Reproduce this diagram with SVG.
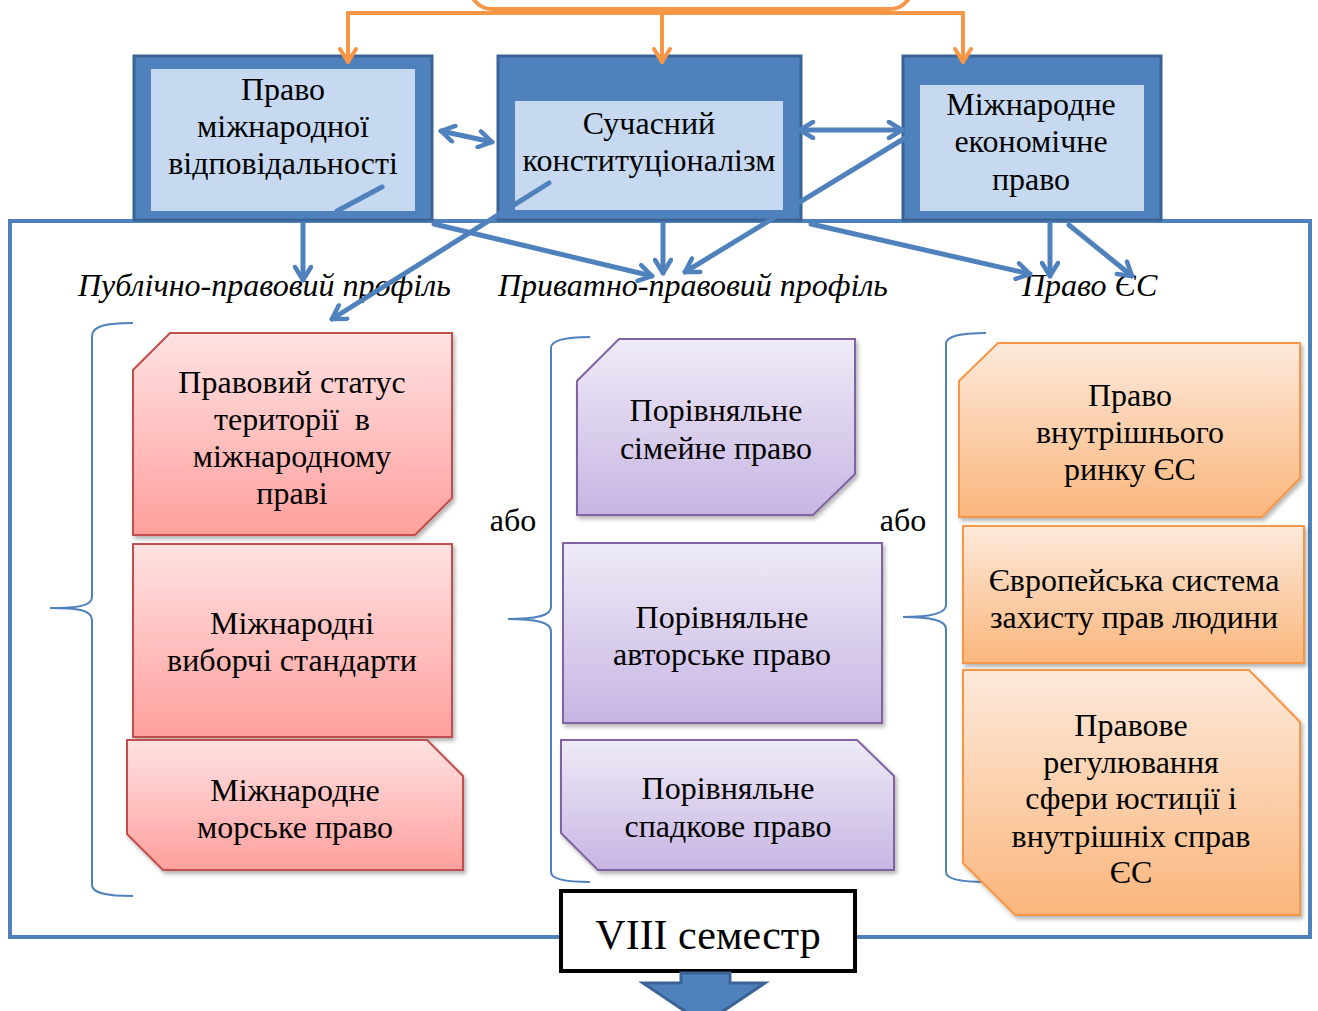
<svg xmlns="http://www.w3.org/2000/svg" width="1318" height="1011" viewBox="0 0 1318 1011">
<defs>
<style>
.t{font-family:"Liberation Serif","Times New Roman",serif;font-size:32px;fill:#000;text-anchor:middle}
.it{font-family:"Liberation Serif","Times New Roman",serif;font-size:32px;font-style:italic;fill:#000}
.outer{fill:#4f81bd;stroke:#3a6496;stroke-width:3}
.inner{fill:#c6d9f1}
.con{fill:none;stroke:#4f81bd;stroke-width:5;stroke-linecap:round}
.or{fill:none;stroke:#f79646;stroke-width:4;stroke-linecap:round}
.br{fill:none;stroke:#4f81bd;stroke-width:2}
.red{fill:url(#gr);stroke:#c0504d;stroke-width:2;filter:url(#sh)}
.pur{fill:url(#gp);stroke:#8064a2;stroke-width:2;filter:url(#sh)}
.ora{fill:url(#go);stroke:#f79646;stroke-width:2;filter:url(#sh)}
</style>
<linearGradient id="gr" x1="0" y1="0" x2="0" y2="1"><stop offset="0" stop-color="#ffe2e2"/><stop offset="1" stop-color="#ff9f9d"/></linearGradient>
<linearGradient id="gp" x1="0" y1="0" x2="0" y2="1"><stop offset="0" stop-color="#efebf7"/><stop offset="1" stop-color="#c7b5e3"/></linearGradient>
<linearGradient id="go" x1="0" y1="0" x2="0" y2="1"><stop offset="0" stop-color="#fde9db"/><stop offset="1" stop-color="#fab67c"/></linearGradient>
<filter id="sh" x="-10%" y="-10%" width="120%" height="130%"><feDropShadow dx="2" dy="3" stdDeviation="2" flood-color="#000" flood-opacity="0.3"/></filter>
<marker id="ab" viewBox="0 0 20 20" refX="17" refY="10" markerWidth="20" markerHeight="20" markerUnits="userSpaceOnUse" orient="auto-start-reverse"><path d="M4,2 L17,10 L4,18" fill="none" stroke="#4f81bd" stroke-width="4.5" stroke-linecap="round" stroke-linejoin="round"/></marker>
<marker id="ao" viewBox="0 0 20 20" refX="17" refY="10" markerWidth="20" markerHeight="20" markerUnits="userSpaceOnUse" orient="auto"><path d="M4,2 L17,10 L4,18" fill="none" stroke="#f79646" stroke-width="4" stroke-linecap="round" stroke-linejoin="round"/></marker>
</defs>
<rect width="1318" height="1011" fill="#fff"/>

<g id="frame">
<path d="M8,221 L1310,221 L1310,937 L10,937 L10,221" fill="none" stroke="#4f81bd" stroke-width="4"/>
</g>

<g id="source">
<rect x="470" y="-40" width="442" height="49" rx="22" fill="#fff" stroke="#f79646" stroke-width="4"/>
</g>

<g id="n-left">
<rect class="outer" x="134" y="56" width="298" height="164"/>
<rect class="inner" x="151" y="69" width="264" height="142"/>
<text class="t" x="283" y="100">Право</text>
<text class="t" x="283" y="137">міжнародної</text>
<text class="t" x="283" y="174">відповідальності</text>
</g>
<g id="n-mid">
<rect class="outer" x="498" y="56" width="303" height="164"/>
<rect class="inner" x="515" y="101" width="268" height="109"/>
<text class="t" x="649" y="134">Сучасний</text>
<text class="t" x="649" y="171">конституціоналізм</text>
</g>
<g id="n-right">
<rect class="outer" x="903" y="56" width="258" height="164"/>
<rect class="inner" x="920" y="85" width="224" height="126"/>
<text class="t" x="1031" y="115">Міжнародне</text>
<text class="t" x="1031" y="152">економічне</text>
<text class="t" x="1031" y="190">право</text>
</g>

<g id="labels">
<text class="it" x="78" y="296">Публічно-правовий профіль</text>
<text class="it" x="498" y="296">Приватно-правовий профіль</text>
<text class="it" x="1022" y="296">Право ЄС</text>
<text class="t" x="513" y="531">або</text>
<text class="t" x="903" y="531">або</text>
</g>

<g id="braces">
<path class="br" d="M133,323 C106,323 92,326 92,336 L92,597 C92,606 78,608 50,608 C78,608 92,610 92,620 L92,885 C92,893 106,896 133,896"/>
<path class="br" d="M590,337 C565,337 551,340 551,348 L551,607 C551,616 536,619 508,619 C536,619 551,622 551,631 L551,872 C551,879 565,882 590,882"/>
<path class="br" d="M986,333 C960,333 946,336 946,344 L946,605 C946,613 931,617 903,617 C931,617 946,620 946,629 L946,872 C946,879 960,882 986,882"/>
</g>

<g id="n-r1"><polygon class="red" points="170,333 452,333 452,498 415,535 133,535 133,370"/>
<text class="t" x="292" y="393">Правовий статус</text><text class="t" x="292" y="430">території&#160; в</text><text class="t" x="292" y="467">міжнародному</text><text class="t" x="292" y="504">праві</text></g>
<g id="n-r2"><rect class="red" x="133" y="544" width="319" height="193"/>
<text class="t" x="292" y="634">Міжнародні</text><text class="t" x="292" y="671">виборчі стандарти</text></g>
<g id="n-r3"><polygon class="red" points="127,740 427,740 463,776 463,870 163,870 127,834"/>
<text class="t" x="295" y="801">Міжнародне</text><text class="t" x="295" y="838">морське право</text></g>

<g id="n-p1"><polygon class="pur" points="619,339 855,339 855,474 813,515 577,515 577,381"/>
<text class="t" x="716" y="421">Порівняльне</text><text class="t" x="716" y="459">сімейне право</text></g>
<g id="n-p2"><rect class="pur" x="563" y="543" width="319" height="180"/>
<text class="t" x="722" y="628">Порівняльне</text><text class="t" x="722" y="665">авторське право</text></g>
<g id="n-p3"><polygon class="pur" points="561,740 857,740 894,776 894,870 598,870 561,833"/>
<text class="t" x="728" y="799">Порівняльне</text><text class="t" x="728" y="837">спадкове право</text></g>

<g id="n-o1"><polygon class="ora" points="998,343 1300,343 1300,478 1262,517 959,517 959,381"/>
<text class="t" x="1130" y="406">Право</text><text class="t" x="1130" y="443">внутрішнього</text><text class="t" x="1130" y="480">ринку ЄС</text></g>
<g id="n-o2"><rect class="ora" x="963" y="526" width="341" height="137"/>
<text class="t" x="1134" y="591">Європейська система</text><text class="t" x="1134" y="628">захисту прав людини</text></g>
<g id="n-o3"><polygon class="ora" points="963,670 1249,670 1300,722 1300,915 1015,915 963,863"/>
<text class="t" x="1131" y="736">Правове</text><text class="t" x="1131" y="773">регулювання</text><text class="t" x="1131" y="809">сфери юстиції і</text><text class="t" x="1131" y="847">внутрішніх справ</text><text class="t" x="1131" y="883">ЄС</text></g>

<g id="connectors">
<path class="or" d="M348,13 L963,13"/>
<path class="or" d="M348,13 L348,62" marker-end="url(#ao)"/>
<path class="or" d="M662,13 L662,62" marker-end="url(#ao)"/>
<path class="or" d="M963,13 L963,62" marker-end="url(#ao)"/>
<path class="con" d="M441,131 L492,142" marker-start="url(#ab)" marker-end="url(#ab)"/>
<path class="con" d="M800,130 L902,130" marker-start="url(#ab)" marker-end="url(#ab)"/>
<path class="con" d="M382,187 L337,211"/>
<path class="con" d="M303,224 L303,280" marker-end="url(#ab)"/>
<path class="con" d="M549,183 L332,319" marker-end="url(#ab)"/>
<path class="con" d="M434,224 L652,276" marker-end="url(#ab)"/>
<path class="con" d="M663,224 L663,273" marker-end="url(#ab)"/>
<path class="con" d="M905,138 L685,272" marker-end="url(#ab)"/>
<path class="con" d="M811,224 L1030,274" marker-end="url(#ab)"/>
<path class="con" d="M1050,224 L1050,276" marker-end="url(#ab)"/>
<path class="con" d="M1069,225 L1132,276" marker-end="url(#ab)"/>
</g>

<g id="n-sem">
<rect x="561" y="891" width="294" height="80" fill="#fff" stroke="#000" stroke-width="4"/>
<text class="t" x="708" y="949" style="font-size:42px">VIII семестр</text>
</g>
<g id="down">
<polygon points="681,973 730,973 730,983 765,983 704,1024 643,983 681,983" fill="#4f81bd" stroke="#3a6496" stroke-width="3"/>
</g>
</svg>
